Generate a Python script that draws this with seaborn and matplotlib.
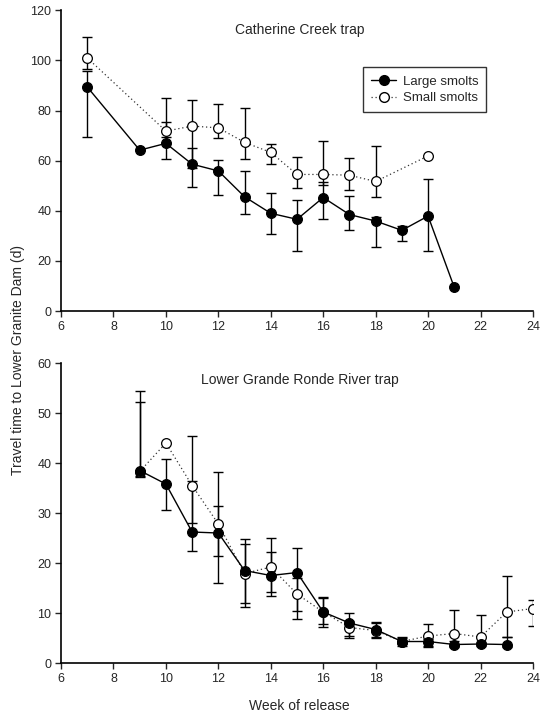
import numpy as np
import seaborn as sns
import matplotlib
matplotlib.use("Agg")
import matplotlib.pyplot as plt
from matplotlib.lines import Line2D

nan = np.nan

# Catherine Creek trap
cc_large_weeks = [7, 9, 10, 11, 12, 13, 14, 15, 16, 17, 18, 19, 20, 21]
cc_large = [89.4, 64.2, 66.9, 58.6, 55.9, 45.6, 39.0, 36.6, 45.3, 38.5, 35.9, 32.2, 37.9, 9.4]
cc_large_lo = [69.5, nan, 60.5, 49.4, 46.2, 38.9, 30.9, 23.9, 36.7, 32.3, 25.6, 27.9, 24.0, nan]
cc_large_hi = [95.8, nan, 75.6, 64.9, 60.4, 56.0, 46.9, 44.3, 51.3, 46.0, 37.6, 34.0, 52.5, nan]

cc_small_weeks = [7, 10, 11, 12, 13, 14, 15, 16, 17, 18, 20]
cc_small = [101.0, 71.8, 73.8, 73.1, 67.3, 63.3, 54.5, 54.5, 54.2, 51.7, 61.9]
cc_small_lo = [96.4, 69.3, 57.0, 68.9, 60.5, 58.6, 49.2, 50.2, 48.2, 45.7, nan]
cc_small_hi = [109.4, 84.9, 84.4, 82.8, 80.9, 66.5, 61.3, 67.9, 61.0, 65.8, nan]

# Lower Grande Ronde River trap
lgr_large_weeks = [9, 10, 11, 12, 13, 14, 15, 16, 17, 18, 19, 20, 21, 22, 23]
lgr_large = [38.5, 35.8, 26.2, 26.0, 18.5, 17.5, 18.1, 10.2, 8.0, 6.7, 4.3, 4.3, 3.7, 3.8, 3.7]
lgr_large_lo = [37.5, 30.6, 22.5, 16.0, 12.0, 13.5, 8.9, 7.3, 5.5, 5.1, 3.5, 3.2, 3.3, 3.4, 3.2]
lgr_large_hi = [52.2, 40.9, 36.5, 31.5, 24.9, 22.3, 23.1, 13.3, 10.0, 8.3, 5.3, 4.8, 4.5, 4.3, 5.3]

lgr_small_weeks = [9, 10, 11, 12, 13, 14, 15, 16, 17, 18, 19, 20, 21, 22, 23, 24]
lgr_small = [38.3, 44.0, 35.5, 27.8, 17.9, 19.2, 13.8, 10.2, 7.1, 6.5, 4.3, 5.4, 5.9, 5.2, 10.2, 10.9]
lgr_small_lo = [37.2, nan, 28.0, 21.5, 11.2, 14.3, 10.5, 7.8, 5.0, 5.3, 3.8, 3.4, 3.5, 3.8, 5.3, 7.5]
lgr_small_hi = [54.5, nan, 45.5, 38.2, 23.8, 25.1, 17.0, 13.1, 8.5, 8.0, 5.0, 7.8, 10.7, 9.6, 17.5, 12.7]

x_ticks = [6, 8, 10, 12, 14, 16, 18, 20, 22, 24]

sns.set_style("ticks")
plt.rcParams['font.family'] = ['Liberation Sans', 'DejaVu Sans']


def draw_series(ax, weeks, vals, lo, hi, filled):
    vals = np.array(vals)
    yerr = np.vstack([vals - np.array(lo), np.array(hi) - vals])
    ax.errorbar(weeks, vals, yerr=yerr, fmt='none', ecolor='black',
                elinewidth=1.0, capsize=3.6, capthick=1.0, zorder=2)
    sns.lineplot(x=weeks, y=vals, ax=ax, sort=False, estimator=None,
                 color='black' if filled else '#333333',
                 linewidth=1.0 if filled else 0.9,
                 linestyle='-' if filled else (0, (1, 2.2)),
                 marker='o', markersize=7,
                 markerfacecolor='black' if filled else 'white',
                 markeredgecolor='black', markeredgewidth=0.9, zorder=3)


def style_axis(ax, ymax, ystep):
    ax.set_xlim(6, 24)
    ax.set_ylim(0, ymax)
    ax.set_xticks(x_ticks)
    ax.set_yticks(np.arange(0, ymax + 1, ystep))
    ax.tick_params(direction='out', length=4, width=1, labelsize=9, pad=3)
    for s in ['left', 'bottom']:
        ax.spines[s].set_linewidth(1.2)
        ax.spines[s].set_color('black')
    sns.despine(ax=ax)
    ax.set_xlabel('')
    ax.set_ylabel('')


fig = plt.figure(figsize=(5.5, 7.16), dpi=100)
ax1 = fig.add_axes([0.111, 0.5656, 0.858, 0.420])
ax2 = fig.add_axes([0.111, 0.074, 0.858, 0.419])

draw_series(ax1, cc_small_weeks, cc_small, cc_small_lo, cc_small_hi, False)
draw_series(ax1, cc_large_weeks, cc_large, cc_large_lo, cc_large_hi, True)
style_axis(ax1, 120, 20)
ax1.text(0.506, 0.934, 'Catherine Creek trap', transform=ax1.transAxes,
         ha='center', va='center', fontsize=10)

handles = [
    Line2D([], [], color='black', lw=1.0, ls='-', marker='o', markersize=7,
           markerfacecolor='black', markeredgecolor='black'),
    Line2D([], [], color='#333333', lw=0.9, ls=(0, (1, 2.2)), marker='o', markersize=7,
           markerfacecolor='white', markeredgecolor='black'),
]
leg = ax1.legend(handles, ['Large smolts', 'Small smolts'], loc='upper left',
                 bbox_to_anchor=(0.64, 0.81), borderaxespad=0, frameon=True,
                 fancybox=False, edgecolor='black', fontsize=9.5, handlelength=1.9,
                 borderpad=0.6, labelspacing=0.35, handletextpad=0.5)
leg.get_frame().set_linewidth(1.0)

draw_series(ax2, lgr_small_weeks, lgr_small, lgr_small_lo, lgr_small_hi, False)
draw_series(ax2, lgr_large_weeks, lgr_large, lgr_large_lo, lgr_large_hi, True)
style_axis(ax2, 60, 10)
ax2.text(0.506, 0.943, 'Lower Grande Ronde River trap', transform=ax2.transAxes,
         ha='center', va='center', fontsize=10)

fig.text(0.033, 0.497, 'Travel time to Lower Granite Dam (d)', rotation=90,
         ha='center', va='center', fontsize=10)
fig.text(0.545, 0.014, 'Week of release', ha='center', va='center', fontsize=10)

fig.savefig('out.png', dpi=100)
